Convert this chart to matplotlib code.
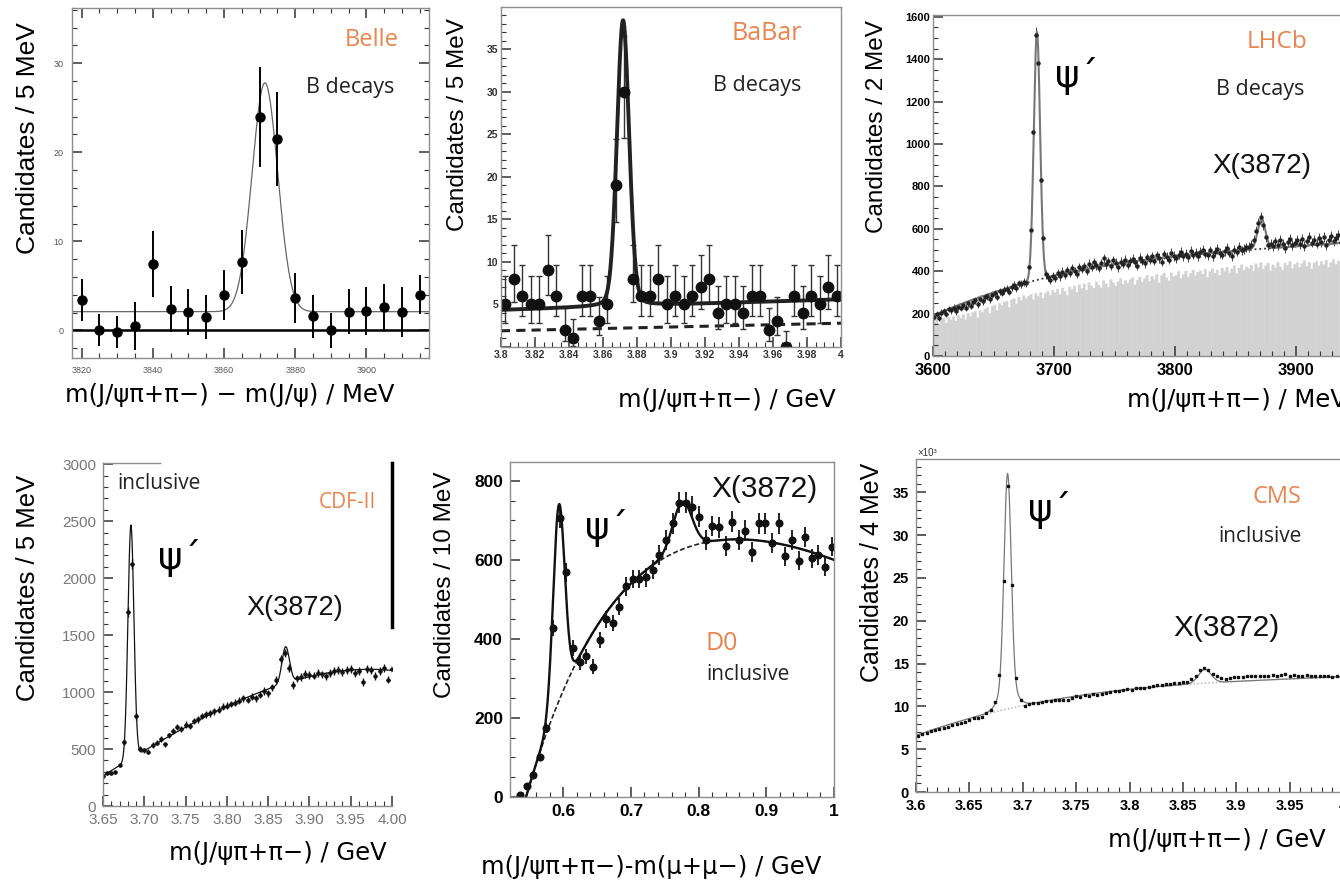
import numpy as np
import matplotlib
matplotlib.use('Agg')
from matplotlib import pyplot as plt
from matplotlib.ticker import MultipleLocator, FuncFormatter

plt.rcParams['font.family'] = ['Liberation Sans', 'DejaVu Sans']

W, H = 1340, 882
ORANGE = '#e9844d'
FRAME = '#8c8c8c'

# ---------------- Belle (B decays), 5 MeV bins
belle_mass = np.arange(3820, 3916, 5)
belle_counts = [3.4, 0.0, -0.2, 0.5, 7.5, 2.4, 2.1, 1.5, 4.0, 7.7,
                24.0, 21.5, 3.6, 1.6, 0.0, 2.1, 2.2, 2.6, 2.1, 4.0]
belle_err = [2.4, 1.8, 1.8, 2.7, 3.7, 2.6, 2.6, 2.5, 2.8, 3.6,
             5.6, 5.3, 2.8, 2.4, 2.0, 2.5, 2.7, 2.6, 2.8, 2.2]
belle_fit = dict(mu=3871.5, sigma=3.6, amp=25.7, bkg=2.1)

# ---------------- BaBar (B decays), 5 MeV bins
babar_mass = np.arange(3.8025, 4.0, 0.005)
babar_counts = [5, 8, 6, 5, 5, 9, 6, 2, 1, 6, 6, 3, 5, 19, 30, 8, 6, 6, 8, 5,
                6, 5, 6, 7, 8, 4, 5, 5, 4, 6, 6, 2, 3, 0, 6, 4, 6, 5, 7, 6]
# 68% Poisson intervals (lower, upper) per observed count
poisson_band = {0: (0.0, 1.84), 1: (0.83, 2.30), 2: (1.29, 2.64), 3: (1.63, 2.92),
                4: (1.91, 3.16), 5: (2.16, 3.38), 6: (2.38, 3.58), 7: (2.58, 3.77),
                8: (2.77, 3.95), 9: (2.94, 4.11), 19: (4.32, 5.40), 30: (5.46, 6.50)}
babar_fit = dict(mu=3.8718, sigma=0.0036, gamma=0.004, amp=33.6,
                 bkg_lo=4.35, bkg_hi=5.6, dash_lo=1.9, dash_hi=2.8)

# ---------------- LHCb (B decays), 2 MeV bins
lhcb_mass = np.arange(3601, 4000, 2)
lhcb_counts = [
    185, 200, 178, 205, 212, 198, 220, 215, 228, 210,
    232, 225, 240, 228, 248, 236, 255, 262, 244, 270,
    258, 276, 282, 268, 290, 296, 280, 305, 298, 312,
    318, 304, 326, 335, 320, 342, 338, 350, 345, 420,
    594, 1058, 1514, 1380, 830, 555, 385, 372, 360, 378,
    368, 390, 375, 398, 384, 405, 392, 415, 400, 388,
    418, 410, 425, 402, 435, 420, 442, 428, 415, 438,
    460, 432, 448, 425, 452, 440, 418, 445, 436, 455,
    430, 448, 458, 442, 426, 462, 450, 438, 466, 455,
    470, 448, 475, 462, 445, 480, 468, 455, 485, 472,
    460, 478, 490, 470, 482, 465, 495, 478, 488, 472,
    490, 500, 482, 475, 498, 470, 492, 505, 485, 478,
    495, 510, 488, 470, 502, 492, 515, 498, 505, 512,
    515, 522, 545, 590, 625, 655, 620, 560, 525, 530,
    518, 540, 525, 545, 528, 510, 538, 550, 522, 535,
    545, 528, 552, 520, 540, 562, 535, 548, 530, 556,
    538, 560, 525, 548, 565, 542, 555, 570, 538, 552,
    560, 545, 572, 555, 548, 565, 578, 552, 560, 570,
    558, 575, 562, 550, 580, 568, 560, 575, 585, 565,
    572, 560, 585, 570, 578, 565, 590, 575, 568, 582]
lhcb_sideband = [
    160, 172, 150, 168, 178, 155, 180, 170, 185, 165,
    190, 178, 195, 170, 200, 185, 205, 210, 180, 215,
    205, 222, 230, 200, 235, 240, 215, 248, 238, 255,
    258, 230, 265, 270, 245, 278, 262, 285, 270, 282,
    290, 265, 295, 280, 300, 272, 295, 305, 285, 310,
    298, 315, 290, 320, 305, 285, 325, 312, 330, 300,
    335, 318, 340, 310, 345, 330, 320, 350, 335, 322,
    355, 340, 325, 360, 345, 330, 350, 365, 338, 355,
    342, 360, 370, 335, 358, 372, 348, 365, 380, 352,
    375, 360, 385, 345, 378, 390, 368, 355, 392, 375,
    380, 398, 365, 385, 400, 372, 390, 405, 378, 395,
    402, 385, 410, 370, 398, 412, 390, 405, 380, 415,
    400, 418, 392, 410, 425, 388, 415, 430, 405, 420,
    412, 428, 400, 435, 418, 440, 410, 425, 438, 402,
    430, 415, 442, 420, 405, 438, 425, 445, 412, 432,
    440, 418, 435, 450, 422, 442, 410, 438, 448, 425,
    445, 430, 452, 418, 440, 455, 432, 448, 425, 450,
    438, 455, 428, 450, 460, 435, 452, 440, 458, 445,
    450, 462, 438, 455, 445, 465, 440, 458, 470, 448,
    460, 452, 468, 445, 462, 472, 450, 465, 458, 470]
lhcb_bkg_poly = [190, 506, -294, 68]          # in t = (m - 3600) / 200
lhcb_psi = dict(mu=3685.9, sigma=2.6, amp=1170)
lhcb_x = dict(mu=3871.5, sigma=3.2, amp=140)

# ---------------- CDF-II (inclusive), 5 MeV bins
cdf_mass = np.round(np.arange(3.650, 4.0001, 0.005), 3)
cdf_counts = [262, 290, 292, 300, 360, 562, 1703, 2122, 787, 504,
              490, 478, 535, 555, 590, 540, 620, 655, 690, 672,
              715, 705, 745, 760, 790, 805, 812, 830, 845, 870,
              880, 895, 905, 925, 945, 930, 960, 945, 975, 1010,
              990, 1040, 1110, 1290, 1345, 1210, 1060, 1120, 1135, 1160,
              1150, 1145, 1165, 1155, 1140, 1170, 1185, 1195, 1175, 1190,
              1200, 1165, 1185, 1090, 1200, 1195, 1140, 1185, 1210, 1110,
              1205]
cdf_bkg_poly = [265, 1565.2, -99.2, -541.0]    # in t = (m - 3.65) / 0.35
cdf_psi = dict(mu=3.6838, sigma=0.0036, amp=2050)
cdf_x = dict(mu=3.8712, sigma=0.0045, amp=320)

# ---------------- D0 (inclusive), ~10 MeV bins in m(J/psi pi pi) - m(mu mu)
d0_dm = np.round(0.536 + 0.0098 * np.arange(48), 4)
d0_counts = [6, 28, 56, 100, 174, 427, 707, 569, 377, 341,
             356, 330, 398, 450, 440, 482, 533, 552, 552, 556,
             575, 613, 651, 693, 745, 745, 735, 709, 651, 686,
             683, 636, 697, 651, 674, 621, 693, 693, 642, 693,
             609, 651, 598, 659, 604, 613, 583, 634]
d0_bkg = dict(x0=0.545, amp=1081, tau=0.16, lin=-800, quad=-260)
d0_psi = dict(mu=0.5935, sigma=0.0085, amp=497)
d0_x = dict(mu=0.776, sigma=0.014, amp=120)

# ---------------- CMS (inclusive), 4 MeV bins, counts in 10^3
cms_mass = np.round(np.arange(3.602, 4.0, 0.004), 3)
cms_counts = [6.6, 6.8, 6.9, 7.1, 7.2, 7.4, 7.5, 7.6, 7.8, 8.0,
              8.1, 8.2, 8.4, 8.6, 8.7, 8.8, 9.2, 9.6, 10.5, 13.7,
              24.7, 35.7, 24.2, 13.3, 10.7, 10.1, 10.3, 10.4, 10.4, 10.5,
              10.6, 10.6, 10.7, 10.7, 10.8, 10.8, 11.0, 11.2, 11.1, 11.3,
              11.2, 11.4, 11.3, 11.5, 11.6, 11.7, 11.8, 11.8, 11.9, 12.0,
              11.9, 12.1, 12.2, 12.1, 12.3, 12.4, 12.5, 12.5, 12.6, 12.6,
              12.7, 12.7, 12.8, 12.9, 13.2, 13.6, 14.2, 14.5, 14.2, 13.8,
              13.5, 13.3, 13.2, 13.3, 13.4, 13.4, 13.4, 13.5, 13.5, 13.6,
              13.5, 13.6, 13.6, 13.7, 13.6, 13.7, 13.8, 13.6, 13.7, 13.6,
              13.6, 13.7, 13.6, 13.5, 13.6, 13.5, 13.5, 13.4, 13.5, 13.4]
cms_bkg_poly = [6.6, 4.508, -1.1125, 0.104]     # in t = (m - 3.6) / 0.1
cms_psi_core = dict(mu=3.6858, sigma=0.0033, amp=25.0)
cms_psi_wide = dict(mu=3.6858, sigma=0.008, amp=2.5)
cms_x = dict(mu=3.8705, sigma=0.006, amp=1.6)


def gauss(x, mu, sigma, amp):
    return amp * np.exp(-0.5 * ((x - mu) / sigma) ** 2)


def poly(t, coeffs):
    return sum(c * t ** i for i, c in enumerate(coeffs))


def px_box(left, top, right, bottom):
    return [left / W, 1 - bottom / H, (right - left) / W, (bottom - top) / H]


fig = plt.figure(figsize=(W / 100, H / 100), dpi=100)


def put(x, y, s, **kw):
    fig.text(x / W, 1 - y / H, s, **kw)


def dress(ax, xmaj, xmin, ymaj, ymin, size, color='black', weight='normal',
          fmt='{:g}', mirror=False, pad=3):
    for sp in ax.spines.values():
        sp.set_color(FRAME)
        sp.set_linewidth(1.0)
    ax.xaxis.set_major_locator(MultipleLocator(xmaj))
    ax.xaxis.set_minor_locator(MultipleLocator(xmin))
    ax.yaxis.set_major_locator(MultipleLocator(ymaj))
    ax.yaxis.set_minor_locator(MultipleLocator(ymin))
    ax.xaxis.set_major_formatter(FuncFormatter(lambda v, p: fmt.format(round(v, 4))))
    ax.yaxis.set_major_formatter(FuncFormatter(lambda v, p: '{:g}'.format(round(v, 4))))
    ax.tick_params(which='both', direction='in', color='#333',
                   top=mirror, right=mirror, labelsize=size, labelcolor=color, pad=pad)
    ax.tick_params(which='major', length=7, width=1.1)
    ax.tick_params(which='minor', length=3.5, width=0.8)
    for lab in ax.get_xticklabels() + ax.get_yticklabels():
        lab.set_fontweight(weight)


YL = dict(rotation=90, ha='center', va='center', family=['Liberation Sans', 'DejaVu Sans'])
XL = dict(family=['DejaVu Sans'], va='center')
NOTE = dict(family=['Open Sans', 'DejaVu Sans'], ha='center', va='center')
BIG = dict(family=['Liberation Sans', 'DejaVu Sans'], ha='center', va='center')
PSI = dict(family=['DejaVu Sans'], ha='center', va='center', fontsize=27)

# ======================= Belle
ax = fig.add_axes(px_box(72, 8, 429, 358))
xs = np.linspace(3815, 3920, 600)
ax.plot(xs, belle_fit['bkg'] + gauss(xs, belle_fit['mu'], belle_fit['sigma'], belle_fit['amp']),
        color='#666', lw=0.9)
ax.axhline(0, color='black', lw=1.8)
ax.errorbar(belle_mass, belle_counts, yerr=belle_err, fmt='o', ms=6.5, color='black',
            ecolor='black', elinewidth=1.4, capsize=0)
ax.set_xlim(3817.3, 3917.6)
ax.set_ylim(-3.1, 36.2)
dress(ax, 20, 5, 10, 2, 6.5, color='#555', mirror=True, pad=6)
put(28, 138, 'Candidates / 5 MeV', fontsize=19, **YL)
put(230, 395, 'm(J/ψπ+π−) − m(J/ψ) / MeV', fontsize=17.5, ha='center', **XL)
put(372, 40, 'Belle', color=ORANGE, fontsize=17, **NOTE)
put(350, 88, 'B decays', color='#222', fontsize=15.5, **NOTE)

# ======================= BaBar
ax = fig.add_axes(px_box(501, 7, 841, 347))
xs = np.linspace(3.8, 4.0, 1200)
lin = babar_fit['bkg_lo'] + (babar_fit['bkg_hi'] - babar_fit['bkg_lo']) * (xs - 3.8) / 0.2
peak = babar_fit['amp'] * (0.85 * np.exp(-0.5 * ((xs - babar_fit['mu']) / babar_fit['sigma']) ** 2)
                           + 0.15 / (1 + ((xs - babar_fit['mu']) / babar_fit['gamma']) ** 2))
dash = babar_fit['dash_lo'] + (babar_fit['dash_hi'] - babar_fit['dash_lo']) * (xs - 3.8) / 0.2
ax.plot(xs, dash, color='#222', lw=2.2, dashes=(3, 2))
lo = [poisson_band[n][0] for n in babar_counts]
hi = [poisson_band[n][1] for n in babar_counts]
ax.errorbar(babar_mass, babar_counts, yerr=[lo, hi], fmt='o', ms=7.5, color='#111',
            ecolor='#333', elinewidth=1.0, capsize=2.5, capthick=1.0, clip_on=True)
ax.plot(xs, lin + peak, color='#222', lw=2.8)
ax.set_xlim(3.8, 4.0)
ax.set_ylim(0, 39.95)
dress(ax, 0.02, 0.005, 5, 1, 7.5, color='#333', weight='bold', pad=2)
ax.yaxis.get_major_ticks()[1].label1.set_visible(False)
put(458, 125, 'Candidates / 5 MeV', fontsize=17.5, **YL)
put(727, 400, 'm(J/ψπ+π−) / GeV', fontsize=17.5, ha='center', **XL)
put(767, 34, 'BaBar', color=ORANGE, fontsize=18, **NOTE)
put(757, 85, 'B decays', color='#222', fontsize=15.5, **NOTE)

# ======================= LHCb
ax = fig.add_axes(px_box(933, 15, 1417, 356))
bars = ax.bar(lhcb_mass, lhcb_sideband, width=2.0, color='#d2d2d2', edgecolor='#d2d2d2',
              linewidth=0.3)
for b in bars:
    b.set_snap(False)
xs = np.linspace(3600, 4000, 2000)
bkg = poly((xs - 3600) / 200, lhcb_bkg_poly)
ax.plot(xs, bkg, color='#333', lw=1.3, ls=':')
ax.errorbar(lhcb_mass, lhcb_counts, yerr=np.sqrt(lhcb_counts), fmt='o', ms=2.2,
            color='#222', ecolor='#444', elinewidth=0.7, capsize=0)
ax.plot(xs, bkg + gauss(xs, **lhcb_psi) + gauss(xs, **lhcb_x), color='#777', lw=1.5)
ax.set_xlim(3600, 4000)
ax.set_ylim(0, 1608)
dress(ax, 100, 10, 200, 50, 8, weight='bold', pad=2)
for lab in ax.get_xticklabels():
    lab.set_fontsize(12)
ax.tick_params(axis='x', pad=5)
put(877, 127, 'Candidates / 2 MeV', fontsize=17.5, **YL)
put(1127, 400, 'm(J/ψπ+π−) / MeV', fontsize=17.5, ha='left', **XL)
put(1277, 42, 'LHCb', color=ORANGE, fontsize=17.5, **NOTE)
put(1260, 89, 'B decays', color='#222', fontsize=15.5, **NOTE)
put(1262, 166, 'X(3872)', color='#111', fontsize=20, **BIG)
put(1077, 76, 'ψ´', **PSI)

# ======================= CDF-II
ax = fig.add_axes(px_box(103, 463, 392, 806))
xs = np.linspace(3.65, 4.0, 2000)
bkg = poly((xs - 3.65) / 0.35, cdf_bkg_poly)
ax.plot(xs, bkg + gauss(xs, **cdf_psi) + gauss(xs, **cdf_x), color='#111', lw=0.9)
ax.errorbar(cdf_mass, cdf_counts, xerr=0.0022, yerr=np.sqrt(cdf_counts), fmt='o', ms=2.2,
            color='#111', ecolor='#111', elinewidth=1.0, capsize=0)
ax.set_xlim(3.65, 4.0)
ax.set_ylim(0, 3010)
dress(ax, 0.05, 0.01, 500, 100, 11, color='#777', fmt='{:.2f}', pad=5)
ax.spines['top'].set_bounds(3.65, 3.719)
ax.spines['right'].set_bounds(1572, 3010)
ax.spines['right'].set_color('black')
ax.spines['right'].set_linewidth(2.5)
put(28, 588, 'Candidates / 5 MeV', fontsize=18.5, **YL)
put(278, 853, 'm(J/ψπ+π−) / GeV', fontsize=17.5, ha='center', **XL)
put(159, 483, 'inclusive', color='#222', fontsize=15, **NOTE)
put(347, 503, 'CDF-II', color=ORANGE, fontsize=15, **NOTE)
put(295, 608, 'X(3872)', color='#111', fontsize=19.5, **BIG)
put(180, 558, 'ψ´', **PSI)

# ======================= D0
ax = fig.add_axes(px_box(510, 462, 834, 797))
xs = np.linspace(0.545, 1.0, 1500)
u = xs - d0_bkg['x0']
bkg = (d0_bkg['amp'] * (1 - np.exp(-u / d0_bkg['tau'])) + d0_bkg['lin'] * u
       + d0_bkg['quad'] * u ** 2)
ax.plot(xs, bkg, color='#222', lw=1.2, dashes=(3, 1.5))
ax.plot(xs, bkg + gauss(xs, **d0_psi) + gauss(xs, **d0_x), color='#111', lw=1.7)
ax.errorbar(d0_dm, d0_counts, yerr=np.sqrt(d0_counts), fmt='o', ms=4.8, color='#111',
            ecolor='#111', elinewidth=1.3, capsize=0, clip_on=True)
ax.set_xlim(0.5213, 1.0)
ax.set_ylim(0, 848)
dress(ax, 0.1, 0.02, 200, 50, 12.5, weight='bold', pad=5)
put(445, 585, 'Candidates / 10 MeV', fontsize=17.5, **YL)
put(651, 867, 'm(J/ψπ+π−)-m(μ+μ−) / GeV', fontsize=17.5, ha='center', **XL)
put(764, 489, 'X(3872)', color='#111', fontsize=21.5, **BIG)
put(607, 528, 'ψ´', **PSI)
put(722, 643, 'D0', color=ORANGE, fontsize=18, **NOTE)
put(748, 675, 'inclusive', color='#222', fontsize=15, **NOTE)

# ======================= CMS
ax = fig.add_axes(px_box(916, 459, 1343, 792))
xs = np.linspace(3.6, 4.0, 2000)
bkg = poly((xs - 3.6) / 0.1, cms_bkg_poly)
ax.plot(xs, bkg, color='#aaa', lw=1.0, ls=':')
ax.plot(xs, bkg + gauss(xs, **cms_psi_core) + gauss(xs, **cms_psi_wide) + gauss(xs, **cms_x),
        color='#777', lw=0.9)
ax.errorbar(cms_mass, cms_counts, yerr=0.12, fmt='s', ms=1.7, color='#111',
            ecolor='#333', elinewidth=0.8, capsize=0)
ax.set_xlim(3.6, 4.0)
ax.set_ylim(0, 38.9)
dress(ax, 0.05, 0.01, 5, 1, 10.5, weight='bold', pad=5)
put(927, 453, '×10³', fontsize=7, ha='center', va='center', color='#333')
put(872, 572, 'Candidates / 4 MeV', fontsize=18, **YL)
put(1108, 840, 'm(J/ψπ+π−) / GeV', fontsize=17.5, ha='left', **XL)
put(1277, 497, 'CMS', color=ORANGE, fontsize=17, **NOTE)
put(1260, 537, 'inclusive', color='#222', fontsize=15, **NOTE)
put(1226, 628, 'X(3872)', color='#111', fontsize=21.5, **BIG)
put(1050, 510, 'ψ´', **PSI)

fig.savefig('out.png', dpi=100, facecolor='white')
